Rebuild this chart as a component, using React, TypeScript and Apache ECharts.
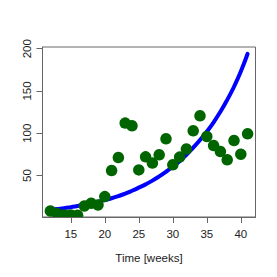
import React, { useEffect, useRef } from "react";
import * as echarts from "echarts";

const weeks = [12, 13, 14, 15, 16, 17, 18, 19, 20, 21, 22, 23, 24, 25, 26, 27, 28, 29, 30, 31, 32, 33, 34, 35, 36, 37, 38, 39, 40, 41];
const observed = [8.2, 5, 3.5, 3.5, 3, 14.1, 17.3, 15.3, 25.1, 55.9, 71.3, 112, 108.8, 56.7, 72.1, 64.7, 74.5, 93.5, 62.7, 71.8, 81.3, 102.9, 120.7, 96.2, 85.5, 78.4, 68.6, 91.4, 75.3, 99.4];
const fitted = [9.5, 10.5, 11.5, 12.7, 14, 15.5, 17, 19, 21, 23.2, 25.8, 28.6, 32, 35.7, 39.6, 44, 49, 54.5, 60.5, 67, 74.5, 83, 92, 102, 113, 125.5, 139.5, 155, 173, 194];
const xTicks = [15, 20, 25, 30, 35, 40];
const yTicks = [50, 100, 150, 200];
const xTitle = "Time [weeks]";

const FONT = "'Liberation Sans', Arial, Helvetica, sans-serif";

export default function App() {
  const ref = useRef<HTMLDivElement>(null);
  useEffect(() => {
    if (!ref.current) return;
    const chart = echarts.init(ref.current, null, { renderer: "svg" });
    chart.setOption({
      animation: false,
      backgroundColor: "#ffffff",
      grid: {
        left: 42.5,
        top: 47,
        width: 213,
        height: 170,
        show: true,
        borderColor: "#666",
        borderWidth: 1,
        backgroundColor: "transparent",
      },
      xAxis: {
        type: "value",
        min: 10.84,
        max: 42.16,
        z: 10,
        splitLine: { show: false },
        axisLine: { show: true, lineStyle: { color: "#666", width: 1 } },
        axisTick: { show: true, inside: false, length: 6, lineStyle: { color: "#666" }, customValues: xTicks },
        axisLabel: { customValues: xTicks, margin: 11, color: "#222", fontSize: 11.5, fontFamily: FONT },
      },
      yAxis: {
        type: "value",
        min: 1,
        max: 202,
        z: 10,
        splitLine: { show: false },
        axisLine: { show: true, lineStyle: { color: "#666", width: 1 } },
        axisTick: { show: true, inside: false, length: 6, lineStyle: { color: "#666" }, customValues: yTicks },
        axisLabel: { customValues: yTicks, rotate: 90, margin: 10, color: "#222", fontSize: 11.5, fontFamily: FONT },
      },
      graphic: [
        {
          type: "rect",
          z: 5,
          shape: { x: 20, y: 217.6, width: 250, height: 12 },
          style: { fill: "#ffffff" },
        },
        {
          type: "text",
          z: 20,
          x: 149,
          y: 258,
          style: {
            text: xTitle,
            fill: "#222",
            font: `11.5px ${FONT}`,
            textAlign: "center",
            textVerticalAlign: "middle",
          },
        },
      ],
      series: [
        {
          type: "line",
          data: weeks.map((w, i) => [w, fitted[i]]),
          smooth: true,
          showSymbol: false,
          z: 2,
          lineStyle: { color: "#0000ff", width: 4, cap: "round" },
        },
        {
          type: "scatter",
          data: weeks.map((w, i) => [w, observed[i]]),
          symbol: "circle",
          symbolSize: 11.5,
          z: 3,
          clip: false,
          itemStyle: { color: "#006400", opacity: 1 },
        },
      ],
    });
    return () => chart.dispose();
  }, []);
  return <div ref={ref} style={{ position: "fixed", left: 0, top: 0, width: 277, height: 277 }} />;
}
